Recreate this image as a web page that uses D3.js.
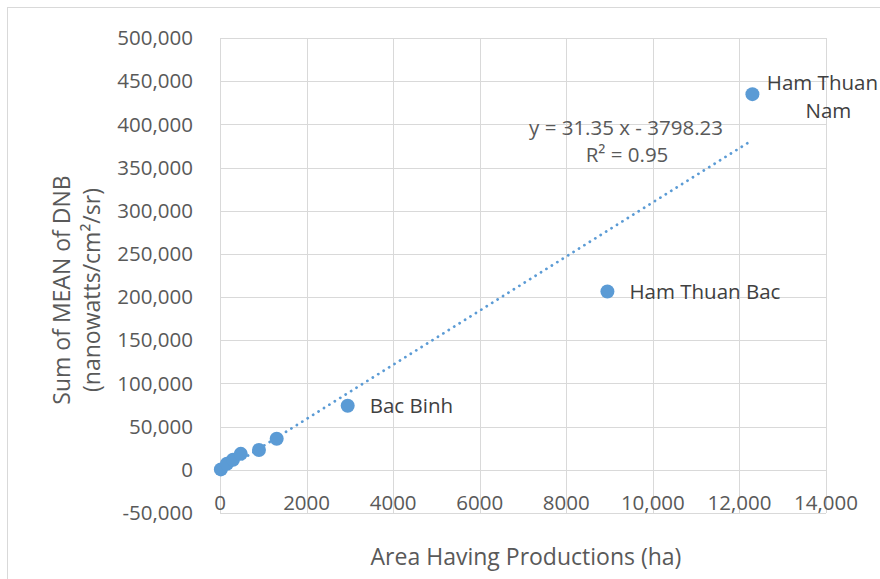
<!DOCTYPE html>
<html><head><meta charset="utf-8">
<script src="https://cdn.jsdelivr.net/npm/d3@7"></script>
<style>body{margin:0;background:#fff;}svg{display:block;}</style>
</head><body>
<script>
const areaHa = [20, 160, 300, 480, 900, 1310, 2950, 8950, 12300];
const dnbSum = [500, 7000, 11600, 18500, 23000, 36000, 74200, 206500, 435000];
const pointLabels = ["", "", "", "", "", "", "Bac Binh", "Ham Thuan Bac", "Ham Thuan Nam"];
const xTickValues = [0, 2000, 4000, 6000, 8000, 10000, 12000, 14000];
const xTickLabels = ["0", "2000", "4000", "6000", "8000", "10,000", "12,000", "14,000"];
const yTickValues = [-50000, 0, 50000, 100000, 150000, 200000, 250000, 300000, 350000, 400000, 450000, 500000];
const trendSlope = 31.35, trendIntercept = -3798.23;

const W = 880, H = 579;
const font = "'Open Sans', sans-serif";
const fs = 20.5;
const svg = d3.select("body").append("svg").attr("width", W).attr("height", H);
svg.append("rect").attr("x", 7.5).attr("y", 7.5).attr("width", W).attr("height", H).attr("fill", "#fff").attr("stroke", "#d9d9d9");

const x = d3.scaleLinear().domain([0, 14000]).range([220, 826]);
const y = d3.scaleLinear().domain([-50000, 500000]).range([513, 38]);

const grid = svg.append("g").attr("stroke", "#d9d9d9").attr("stroke-width", 1);
yTickValues.forEach(v => grid.append("line").attr("x1", x(0)).attr("x2", x(14000)).attr("y1", Math.round(y(v))+0.5).attr("y2", Math.round(y(v))+0.5));
xTickValues.forEach(v => grid.append("line").attr("y1", y(-50000)).attr("y2", y(500000)).attr("x1", Math.round(x(v))+0.5).attr("x2", Math.round(x(v))+0.5));

const fmt = d3.format(",");
svg.append("g").selectAll("text").data(yTickValues).join("text")
  .attr("x", 193).attr("y", d => y(d)).attr("dy", "0.35em").attr("text-anchor", "end")
  .attr("font-family", font).attr("font-size", fs).attr("fill", "#595959")
  .text(d => d === 0 ? "0" : fmt(d).replace("−", "-"));
svg.append("g").selectAll("text").data(xTickValues).join("text")
  .attr("x", d => x(d)).attr("y", 503).attr("dy", "0.35em").attr("text-anchor", "middle")
  .attr("font-family", font).attr("font-size", fs).attr("fill", "#595959")
  .text((d, i) => xTickLabels[i]);

// trendline
const xmin = d3.min(areaHa), xmax = d3.max(areaHa);
svg.append("line")
  .attr("x1", x(xmin)).attr("y1", y(trendSlope * xmin + trendIntercept))
  .attr("x2", x(xmax)).attr("y2", y(trendSlope * xmax + trendIntercept))
  .attr("stroke", "#5b9bd5").attr("stroke-width", 2.75).attr("stroke-linecap", "round")
  .attr("stroke-dasharray", "0.1 6.3");

svg.append("g").selectAll("circle").data(areaHa).join("circle")
  .attr("cx", d => x(d)).attr("cy", (d, i) => y(dnbSum[i])).attr("r", 7)
  .attr("fill", "#5b9bd5");

// point labels
const lab = svg.append("g").attr("font-family", font).attr("font-size", fs).attr("fill", "#404040");
areaHa.forEach((d, i) => {
  const t = pointLabels[i];
  if (!t) return;
  if (t === "Ham Thuan Nam") {
    lab.append("text").attr("x", x(d) + 70).attr("y", y(dnbSum[i]) - 11).attr("dy", "0.35em").attr("text-anchor", "middle").text("Ham Thuan");
    lab.append("text").attr("x", x(d) + 76).attr("y", y(dnbSum[i]) + 17).attr("dy", "0.35em").attr("text-anchor", "middle").text("Nam");
  } else {
    lab.append("text").attr("x", x(d) + 22).attr("y", y(dnbSum[i])).attr("dy", "0.35em").text(t);
  }
});

// equation
svg.append("text").attr("x", 626).attr("y", 128).attr("dy", "0.35em").attr("text-anchor", "middle")
  .attr("font-family", font).attr("font-size", fs).attr("fill", "#595959")
  .text("y = 31.35 x - 3798.23");
svg.append("text").attr("x", 627).attr("y", 155).attr("dy", "0.35em").attr("text-anchor", "middle")
  .attr("font-family", font).attr("font-size", fs).attr("fill", "#595959")
  .text("R² = 0.95");

// axis titles
svg.append("text").attr("x", 526).attr("y", 557).attr("dy", "0.35em").attr("text-anchor", "middle")
  .attr("font-family", font).attr("font-size", 23).attr("fill", "#595959")
  .text("Area Having Productions (ha)");
const yt = svg.append("text").attr("transform", "translate(0,290) rotate(-90)").attr("text-anchor", "middle")
  .attr("font-family", font).attr("font-size", 23).attr("fill", "#595959");
yt.append("tspan").attr("x", 0).attr("y", 62).attr("dy", "0.35em").text("Sum of MEAN of DNB");
yt.append("tspan").attr("x", 0).attr("y", 92).attr("dy", "0.35em").text("(nanowatts/cm²/sr)");
</script>
</body></html>
